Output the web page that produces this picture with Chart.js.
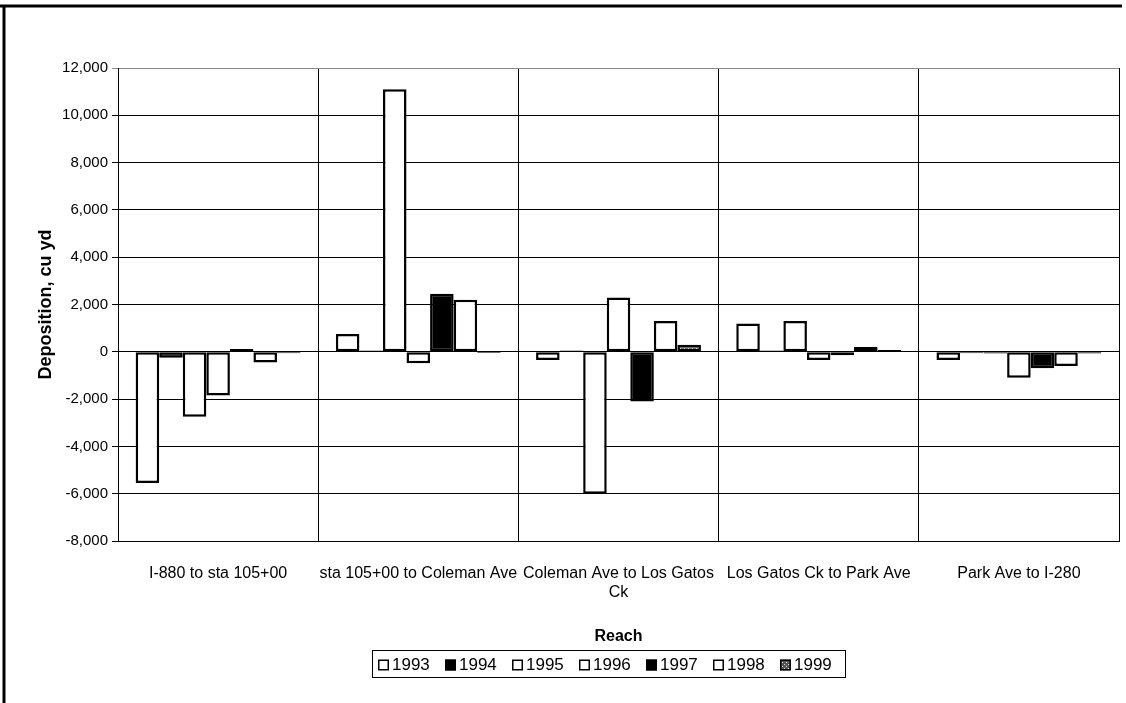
<!DOCTYPE html>
<html>
<head>
<meta charset="utf-8">
<script src="https://cdn.jsdelivr.net/npm/chart.js@4"></script>
<style>
  body { margin: 0; background: #fff; }
  canvas { display: block; }
</style>
</head>
<body>
<canvas id="depositionChart" width="1126" height="703"></canvas>
<script>
// reaches along the creek, left to right
const reaches = [
    "I-880 to sta 105+00",
    "sta 105+00 to Coleman Ave",
    ["Coleman Ave to Los Gatos", "Ck"],
    "Los Gatos Ck to Park Ave",
    "Park Ave to I-280"
];

// deposition per year, cu yd
const years = ["1993", "1994", "1995", "1996", "1997", "1998", "1999"];
const dep1993 = [-5550, 750, -350, 1200, -350];
const dep1994 = [-250, 60, 50, 50, -60];
const dep1995 = [-2750, 11100, -6000, 1300, -70];
const dep1996 = [-1850, -480, 2300, -350, -1100];
const dep1997 = [120, 2450, -2100, -150, -700];
const dep1998 = [-450, 2200, 1300, 200, -600];
const dep1999 = [-60, -50, 300, 80, -70];

const yTicks = [-8000, -6000, -4000, -2000, 0, 2000, 4000, 6000, 8000, 10000, 12000];

const FONT = "'Liberation Sans', Arial, sans-serif";

function makeHatch() {
    const c = document.createElement("canvas");
    c.width = 4;
    c.height = 4;
    const g = c.getContext("2d");
    g.fillStyle = "#555";
    g.fillRect(0, 0, 4, 4);
    g.fillStyle = "#ddd";
    g.fillRect(0, 0, 1, 1);
    g.fillRect(2, 2, 1, 1);
    return g.createPattern(c, "repeat");
}

const fills = ["#fff", "#000", "#fff", "#fff", "#000", "#fff", makeHatch()];
const series = [dep1993, dep1994, dep1995, dep1996, dep1997, dep1998, dep1999];

const datasets = series.map((values, i) => ({
    label: years[i],
    data: values,
    backgroundColor: fills[i],
    borderColor: "#000",
    borderWidth: 2.5,
    borderSkipped: false,
    categoryPercentage: 7 / 8.5,
    barPercentage: 1
}));

// white page, the frame of the sheet and the boxed legend
const framePlugin = {
    id: "frame",
    beforeDraw(chart) {
        const ctx = chart.ctx;
        ctx.save();
        ctx.fillStyle = "#fff";
        ctx.fillRect(0, 0, chart.width, chart.height);
        ctx.restore();
    },
    afterDraw(chart) {
        const ctx = chart.ctx;
        ctx.save();
        ctx.strokeStyle = "#000";
        ctx.lineWidth = 3;
        ctx.beginPath();
        ctx.moveTo(0, 6);
        ctx.lineTo(1122, 6);
        ctx.moveTo(4, 5);
        ctx.lineTo(4, 703);
        ctx.stroke();

        // legend
        const step = 67;
        const n = chart.data.datasets.length;
        const box = { width: n * step + 4, top: 650, height: 27 };
        box.left = Math.round(845 - box.width);
        ctx.lineWidth = 1;
        ctx.strokeRect(box.left + 0.5, box.top + 0.5, box.width, box.height);
        ctx.font = "17px " + FONT;
        ctx.textBaseline = "middle";
        const midY = box.top + box.height / 2 + 1;
        chart.data.datasets.forEach((ds, i) => {
            const x = Math.round(box.left + 6 + i * step);
            ctx.fillStyle = ds.backgroundColor;
            ctx.fillRect(x, midY - 5, 11, 11);
            ctx.lineWidth = 1.5;
            ctx.strokeRect(x + 0.75, midY - 4.25, 9.5, 9.5);
            ctx.fillStyle = "#000";
            ctx.fillText(ds.label, x + 14, midY + 0.5);
        });
        ctx.restore();
    }
};

new Chart(document.getElementById("depositionChart"), {
    type: "bar",
    data: {
        labels: reaches,
        datasets: datasets
    },
    options: {
        responsive: false,
        animation: false,
        layout: {
            padding: { top: 68, right: 7, left: 0, bottom: 53 }
        },
        plugins: {
            legend: { display: false },
            tooltip: { enabled: false }
        },
        scales: {
            x: {
                grid: { color: "#000", lineWidth: 1, drawTicks: false, offset: true },
                border: { color: "#000", width: 1 },
                ticks: {
                    color: "#000",
                    font: { family: FONT, size: 16 },
                    padding: 23,
                    maxRotation: 0,
                    autoSkip: false
                },
                title: {
                    display: true,
                    text: "Reach",
                    color: "#000",
                    font: { family: FONT, size: 16, weight: "bold" },
                    padding: { top: 4, bottom: 4 }
                },
                afterFit(scale) {
                    scale.height = 109;
                }
            },
            y: {
                min: yTicks[0],
                max: yTicks[yTicks.length - 1],
                afterBuildTicks(scale) {
                    scale.ticks = yTicks.map(v => ({ value: v }));
                },
                grid: {
                    color: ctx => (ctx.tick && ctx.tick.value === yTicks[yTicks.length - 1]) ? "#888" : "#000",
                    lineWidth: 1,
                    tickLength: 6
                },
                border: { color: "#000", width: 1 },
                ticks: {
                    color: "#000",
                    font: { family: FONT, size: 15 },
                    padding: 4,
                    callback: v => v.toLocaleString("en-US")
                },
                title: {
                    display: true,
                    text: "Deposition, cu yd",
                    color: "#000",
                    font: { family: FONT, size: 18, weight: "bold" },
                    padding: { top: 35 }
                },
                afterFit(scale) {
                    scale.width = 118;
                }
            }
        }
    },
    plugins: [framePlugin]
});
</script>
</body>
</html>
